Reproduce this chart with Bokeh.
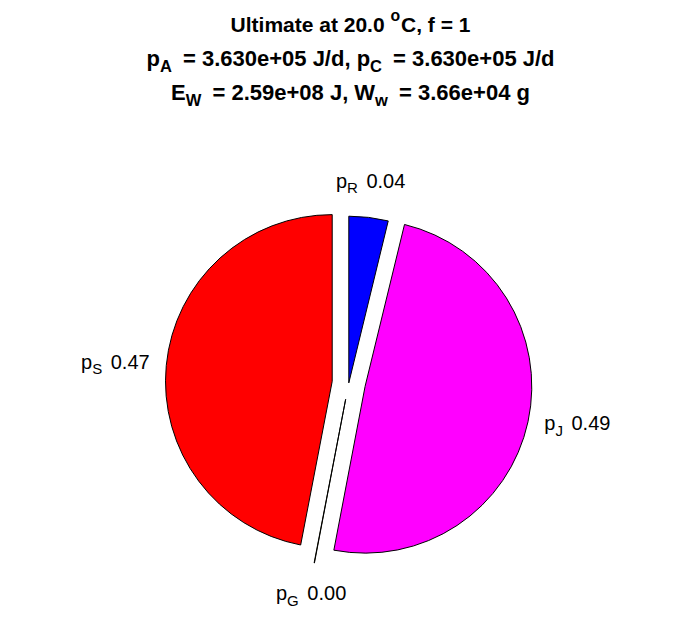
import math
from bokeh.plotting import figure
from bokeh.models import ColumnDataSource
from bokeh.core.properties import value
from bokeh.embed import file_html
from bokeh.resources import INLINE

# ---- data ----
slice_names = ["R", "J", "G", "S"]
slice_fracs = [0.038, 0.492, 0.0003, 0.4697]
slice_labels = [0.04, 0.49, 0.00, 0.47]
slice_colors = ["#0000FF", "#FF00FF", "#FFFF00", "#FF0000"]
slice_explode = [0, 1, 1, 1]

temp_C = 20.0
f_val = 1
p_A = 3.630e+05
p_C = 3.630e+05
E_W = 2.59e+08
W_w = 3.66e+04

FONT = "Liberation Sans"

def tw(s, size, bold):
    try:
        from PIL import ImageFont
        fn = "LiberationSans-Bold.ttf" if bold else "LiberationSans-Regular.ttf"
        f = ImageFont.truetype(fn, int(round(size)))
        return f.getlength(s) * size / int(round(size))
    except Exception:
        return len(s) * size * 0.56

W, H = 696, 618
p = figure(width=W, height=H, x_range=(0, W), y_range=(0, H), min_border=0,
           x_axis_location=None, y_axis_location=None,
           output_backend="svg", toolbar_location=None)
p.grid.visible = False
p.outline_line_color = None

CX, CY, R = 348.3, 235.6, 166.7
EXPL = 0.1 * R

xs, ys, st, en, cols = [], [], [], [], []
label_info = []
cum = 0.0
for name, fr, lab, col, ex in zip(slice_names, slice_fracs, slice_labels, slice_colors, slice_explode):
    a_end = math.pi / 2 - cum * 2 * math.pi
    cum += fr
    a_start = math.pi / 2 - cum * 2 * math.pi
    mid = 0.5 * (a_start + a_end)
    ox = CX + ex * EXPL * math.cos(mid)
    oy = CY + ex * EXPL * math.sin(mid)
    xs.append(ox); ys.append(oy); st.append(a_start); en.append(a_end); cols.append(col)
    label_info.append((name, lab, ox + 1.1 * R * math.cos(mid), oy + 1.1 * R * math.sin(mid), mid))

src = ColumnDataSource(dict(x=xs, y=ys, s=st, e=en, c=cols))
p.wedge(x="x", y="y", radius=R, start_angle="s", end_angle="e", direction="anticlock",
        fill_color="c", line_color="black", line_width=1, source=src)

# ---- composite texts with sub/superscripts ----
seg = dict(x=[], y=[], text=[], size=[], style=[])

def add_line(parts, x, y, size, bold, align, subgap):
    items = []
    for t, k in parts:
        s = size * (0.75 if k != "n" else 1.0)
        w = tw(t, s, bold) + (subgap if k != "n" else 0.0)
        lead = len(t) - len(t.lstrip(" "))
        lw = tw(" " * lead, s, bold) if lead else 0.0
        items.append((t.strip(" "), k, s, w, lw))
    total = sum(it[3] for it in items)
    if align == "center":
        x0 = x - total / 2
    elif align == "right":
        x0 = x - total
    else:
        x0 = x
    for t, k, s, w, lw in items:
        dy = {"n": 0, "sub": -0.34 * size, "sup": 0.45 * size}[k]
        seg["x"].append(x0 + lw); seg["y"].append(y + dy); seg["text"].append(t)
        seg["size"].append(f"{s:.1f}px"); seg["style"].append("bold" if bold else "normal")
        x0 += w

TX = 350
add_line([(f"Ultimate at {temp_C:.1f} ", "n"), ("o", "sup"), (f"C, f = {f_val}", "n")],
         TX, 594, 21, True, "center", 1)
add_line([("p", "n"), ("A", "sub"), (f" = {p_A:.3e} J/d, p", "n"), ("C", "sub"),
          (f" = {p_C:.3e} J/d", "n")], TX, 560, 22, True, "center", 5)
add_line([("E", "n"), ("W", "sub"), (f" = {E_W:.2e} J, W", "n"), ("w", "sub"),
          (f" = {W_w:.2e} g", "n")], TX, 526, 22, True, "center", 5)

LS = 20
for name, lab, ax, ay, mid in label_info:
    c, s_ = math.cos(mid), math.sin(mid)
    if abs(c) < 0.35:
        align = "center"
        by = ay + 20 if s_ > 0 else ay - 14
    else:
        align = "left" if c > 0 else "right"
        by = ay + 2
    add_line([("p", "n"), (name, "sub"), (f" {lab:.2f}", "n")], ax, by, LS, False, align, 3)

tsrc = ColumnDataSource(seg)
p.text(x="x", y="y", text="text", text_font=value(FONT), text_font_size="size",
       text_font_style="style", text_align="left", text_baseline="alphabetic",
       text_color="black", source=tsrc)

open("out.html", "w").write(file_html(p, INLINE))
